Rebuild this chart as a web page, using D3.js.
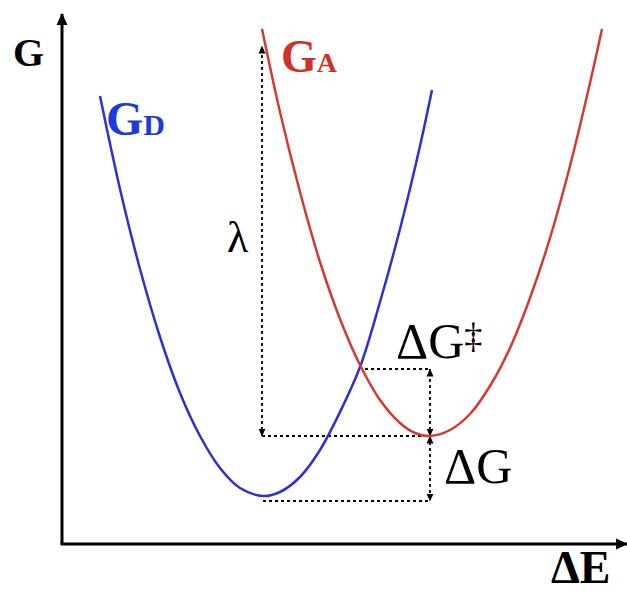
<!DOCTYPE html>
<html>
<head>
<meta charset="utf-8">
<script src="https://cdn.jsdelivr.net/npm/d3@7"></script>
<style>
  body { margin: 0; background: #fff; }
  text { font-family: "Liberation Serif", "DejaVu Serif", serif; }
</style>
</head>
<body>
<script>
// Marcus-type free energy curves (arbitrary units)
var donorX = [3.8, 5.8, 7.8, 9.8, 11.8, 13.8, 15.8, 17.8, 20.1, 21.8, 23.8, 25.8, 27.8, 29.8, 31.8, 33.8, 35.8, 37.0];
var donorG = [44.8, 35.5, 27.5, 20.7, 15.1, 10.8, 7.6, 5.6, 4.8, 5.2, 6.7, 9.4, 13.2, 17.7, 24.2, 31.5, 39.8, 45.4];

var acceptorX = [20.0, 21.8, 23.8, 25.8, 27.8, 29.8, 31.8, 33.8, 35.3, 36.8, 38.8, 40.8, 42.8, 44.8, 46.8, 48.8, 50.8, 52.8, 54.0];
var acceptorG = [51.5, 43.2, 35.2, 28.2, 22.5, 17.9, 14.4, 12.1, 11.1, 10.8, 11.4, 13.0, 15.8, 19.6, 24.6, 30.6, 37.8, 46.1, 51.5];

// guide levels
var levelD = 4.3;       // donor minimum
var levelA = 10.8;      // acceptor minimum
var levelCross = 17.5;  // crossing point
var lambdaTop = 49.8;   // acceptor curve above donor minimum
var xD = 20.0;          // donor minimum position
var xA = 36.8;          // acceptor minimum position
var xCross = 30.5;

var svgWidth = 627;
var svgHeight = 593;

var svg = d3.select("body")
  .append("svg")
  .attr("width", svgWidth)
  .attr("height", svgHeight);

var xScale = d3.scaleLinear().domain([0, 56.5]).range([62, 627]);
var yScale = d3.scaleLinear().domain([0, 53]).range([544, 14]);

// markers
var defs = svg.append("defs");
defs.append("marker")
  .attr("id", "axisArrow")
  .attr("viewBox", "0 0 12 12")
  .attr("refX", 11).attr("refY", 6)
  .attr("markerWidth", 12).attr("markerHeight", 12)
  .attr("markerUnits", "userSpaceOnUse")
  .attr("orient", "auto")
  .append("path")
  .attr("d", "M0,0.5L12,6L0,11.5Z")
  .attr("fill", "#000");

defs.append("marker")
  .attr("id", "smallArrow")
  .attr("viewBox", "0 0 8 8")
  .attr("refX", 7.5).attr("refY", 4)
  .attr("markerWidth", 8).attr("markerHeight", 8)
  .attr("markerUnits", "userSpaceOnUse")
  .attr("orient", "auto-start-reverse")
  .append("path")
  .attr("d", "M0,0.5L8,4L0,7.5Z")
  .attr("fill", "#000");

// axes (no ticks, just arrows)
svg.append("line")
  .attr("x1", xScale(0)).attr("y1", yScale(0))
  .attr("x2", xScale(0)).attr("y2", yScale(53))
  .attr("stroke", "#000").attr("stroke-width", 3)
  .attr("marker-end", "url(#axisArrow)");

svg.append("line")
  .attr("x1", xScale(0) - 1.5).attr("y1", yScale(0))
  .attr("x2", xScale(56.5)).attr("y2", yScale(0))
  .attr("stroke", "#000").attr("stroke-width", 3)
  .attr("marker-end", "url(#axisArrow)");

// dotted guides
var guides = svg.append("g")
  .attr("stroke", "#000")
  .attr("stroke-width", 1.8)
  .attr("stroke-dasharray", "3,3")
  .attr("fill", "none");

function guide(x1, y1, x2, y2) {
  return guides.append("line")
    .attr("x1", xScale(x1)).attr("y1", yScale(y1))
    .attr("x2", xScale(x2)).attr("y2", yScale(y2));
}

// lambda arrow
guide(xD, levelA, xD, lambdaTop)
  .attr("marker-start", "url(#smallArrow)")
  .attr("marker-end", "url(#smallArrow)");
guide(xD, levelA, xA, levelA);
guide(xD + 0.1, levelD, xA, levelD);
guide(xCross - 0.2, levelCross, xA, levelCross);
// activation energy arrow
guide(xA, levelA, xA, levelCross)
  .attr("marker-start", "url(#smallArrow)")
  .attr("marker-end", "url(#smallArrow)");
// driving force arrow
guide(xA, levelA, xA, levelD)
  .attr("marker-start", "url(#smallArrow)")
  .attr("marker-end", "url(#smallArrow)");

// curves
var line = d3.line()
  .x(d => xScale(d[0]))
  .y(d => yScale(d[1]))
  .curve(d3.curveCatmullRom);

svg.append("path")
  .datum(d3.zip(donorX, donorG))
  .attr("d", line)
  .attr("fill", "none")
  .attr("stroke", "#2f2fd2")
  .attr("stroke-width", 2.5);

svg.append("path")
  .datum(d3.zip(acceptorX, acceptorG))
  .attr("d", line)
  .attr("fill", "none")
  .attr("stroke", "#d23a33")
  .attr("stroke-width", 2.5);

// labels
svg.append("text")
  .attr("x", 13).attr("y", 66)
  .style("font-size", "40px").style("font-weight", "bold")
  .text("G");

var gA = svg.append("text")
  .attr("x", 281).attr("y", 72)
  .attr("fill", "#d0302a")
  .style("font-weight", "bold");
gA.append("tspan").style("font-size", "46px").text("G");
gA.append("tspan").style("font-size", "28px").text("A");

var gD = svg.append("text")
  .attr("x", 106).attr("y", 135)
  .attr("fill", "#1c3cd8")
  .style("font-weight", "bold");
gD.append("tspan").style("font-size", "48px").text("G");
gD.append("tspan").style("font-size", "30px").text("D");

svg.append("text")
  .attr("x", 227).attr("y", 252)
  .style("font-size", "44px")
  .text("λ");

var dGact = svg.append("text")
  .attr("x", 396).attr("y", 358)
  .style("font-size", "50px");
dGact.append("tspan").text("ΔG");
dGact.append("tspan").attr("dy", -10).style("font-size", "36px").text("‡");

svg.append("text")
  .attr("x", 444).attr("y", 483)
  .style("font-size", "50px")
  .text("ΔG");

svg.append("text")
  .attr("x", 551).attr("y", 583)
  .style("font-size", "46px").style("font-weight", "bold")
  .text("ΔE");
</script>
</body>
</html>
